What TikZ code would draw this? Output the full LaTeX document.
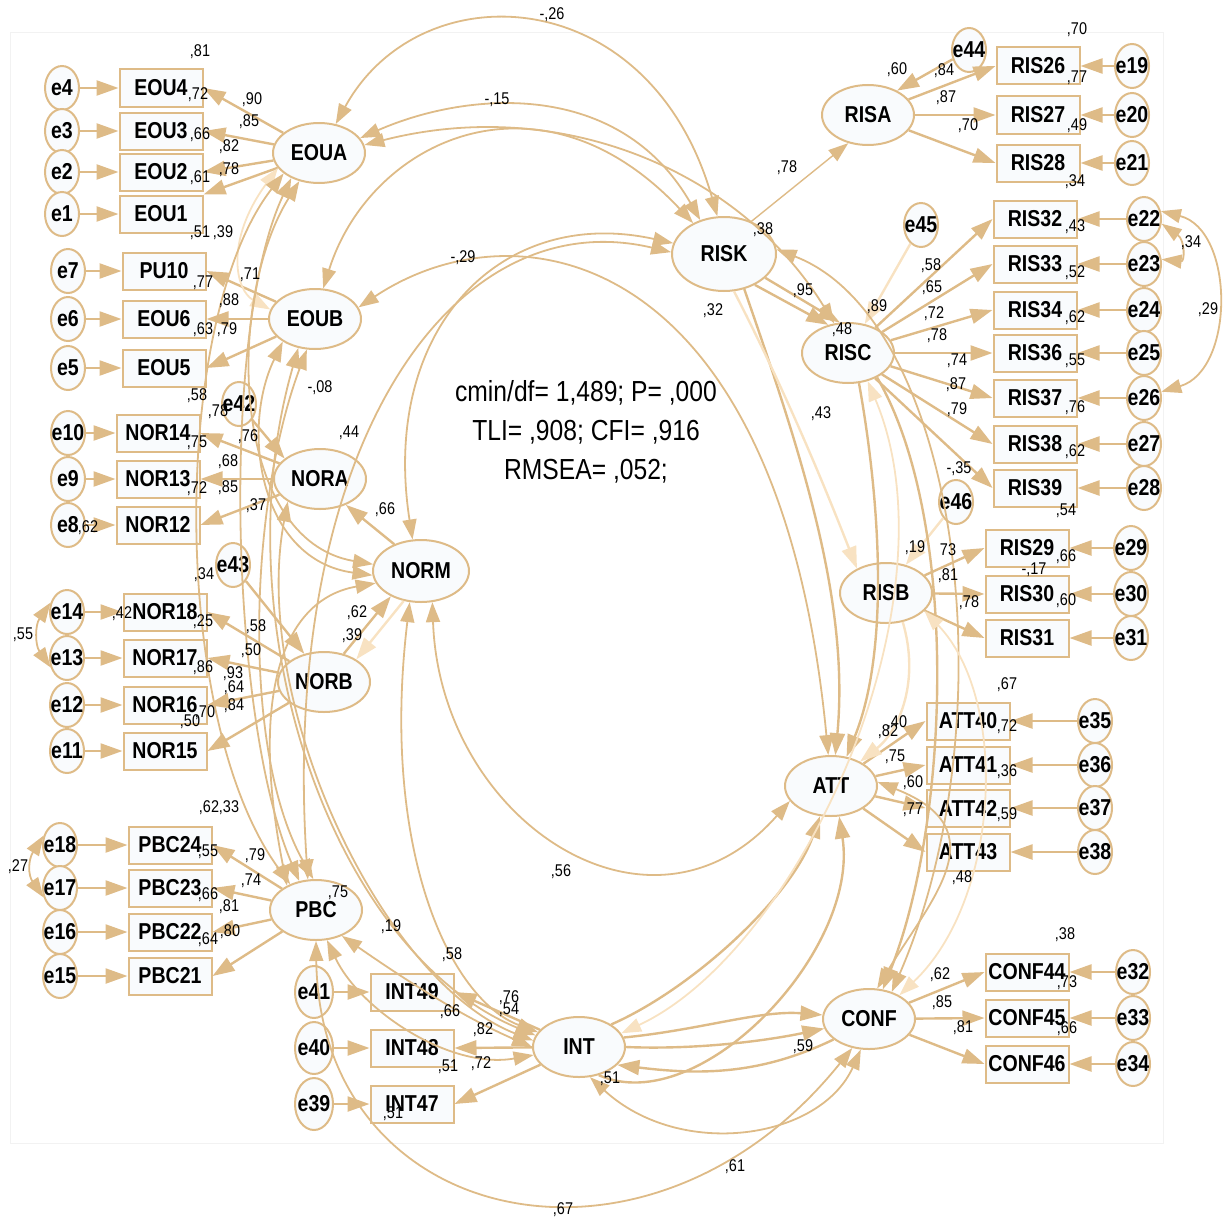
\documentclass[tikz,border=0pt]{standalone}
\usepackage{fontspec}
\setmainfont[FakeStretch=0.85]{Liberation Sans}
\usetikzlibrary{arrows.meta,shapes.geometric}
\definecolor{sand}{RGB}{222,187,135}
\definecolor{palesand}{RGB}{248,226,194}
\definecolor{nodefill}{RGB}{249,251,253}

\begin{document}
\begin{tikzpicture}[x=0.5pt,y=-0.5pt,
    obs/.style={draw=sand, line width=1pt, fill=nodefill, minimum width=41.5pt,
                minimum height=18.5pt, inner sep=0pt, font=\fontsize{11.5}{12}\selectfont\bfseries},
    lat/.style={ellipse, draw=sand, line width=1pt, fill=nodefill, minimum width=46pt,
                minimum height=30pt, inner sep=0pt, font=\fontsize{11.5}{12}\selectfont\bfseries},
    err/.style={ellipse, draw=sand, line width=1pt, fill=nodefill, minimum width=17pt,
                minimum height=22pt, inner xsep=-4pt, inner ysep=0pt, font=\fontsize{11.5}{12}\selectfont\bfseries},
    errtall/.style={err, minimum width=19pt, minimum height=26pt},
    lbl/.style={inner sep=0pt, font=\fontsize{8.5}{9}\selectfont},
    arr/.style={-{Triangle[length=11pt,width=7.5pt]}, line width=1.2pt, sand},
    arrL/.style={-{Triangle[length=11pt,width=7.5pt]}, line width=1.2pt, palesand},
    cov/.style={{Triangle[length=10pt,width=7pt]}-{Triangle[length=10pt,width=7pt]}, line width=0.9pt, sand},
    covL/.style={{Triangle[length=10pt,width=7pt]}-{Triangle[length=10pt,width=7pt]}, line width=0.9pt, palesand},
    thin/.style={-{Triangle[length=10pt,width=7pt]}, line width=0.7pt, sand}
  ]
  \useasboundingbox (0,0) rectangle (1229,1220);
  \draw[black!5] (10,32) rectangle (1163,1143);

  % left indicators
  \node[err] (e4) at (62,88) {e4};
  \node[err] (e3) at (62,131) {e3};
  \node[err] (e2) at (62,172) {e2};
  \node[err] (e1) at (62,214) {e1};
  \node[err] (e7) at (68,271) {e7};
  \node[err] (e6) at (68,319) {e6};
  \node[err] (e5) at (68,368) {e5};
  \node[err] (e10) at (68,433) {e10};
  \node[err] (e9) at (68,479) {e9};
  \node[err] (e8) at (68,525) {e8};
  \node[err] (e14) at (67,612) {e14};
  \node[err] (e13) at (67,658) {e13};
  \node[err] (e12) at (67,705) {e12};
  \node[err] (e11) at (67,751) {e11};
  \node[err] (e18) at (60,845) {e18};
  \node[err] (e17) at (60,888) {e17};
  \node[err] (e16) at (60,932) {e16};
  \node[err] (e15) at (60,976) {e15};

  \node[obs] (EOU4) at (161,88) {EOU4};
  \node[obs] (EOU3) at (161,131) {EOU3};
  \node[obs] (EOU2) at (161,172) {EOU2};
  \node[obs] (EOU1) at (161,214) {EOU1};
  \node[obs] (PU10) at (164,271) {PU10};
  \node[obs] (EOU6) at (164,319) {EOU6};
  \node[obs] (EOU5) at (164,368) {EOU5};
  \node[obs] (NOR14) at (158,433) {NOR14};
  \node[obs] (NOR13) at (158,479) {NOR13};
  \node[obs] (NOR12) at (158,525) {NOR12};
  \node[obs] (NOR18) at (165,612) {NOR18};
  \node[obs] (NOR17) at (165,658) {NOR17};
  \node[obs] (NOR16) at (165,705) {NOR16};
  \node[obs] (NOR15) at (165,751) {NOR15};
  \node[obs] (PBC24) at (170,845) {PBC24};
  \node[obs] (PBC23) at (170,888) {PBC23};
  \node[obs] (PBC22) at (170,932) {PBC22};
  \node[obs] (PBC21) at (170,976) {PBC21};

  % bottom indicators
  \node[errtall] (e41) at (314,992) {e41};
  \node[errtall] (e40) at (314,1048) {e40};
  \node[errtall] (e39) at (314,1104) {e39};
  \node[obs] (INT49) at (412,992) {INT49};
  \node[obs] (INT48) at (412,1048) {INT48};
  \node[obs] (INT47) at (412,1104) {INT47};

  % right indicators
  \node[obs] (RIS26) at (1038,66) {RIS26};
  \node[obs] (RIS27) at (1038,115) {RIS27};
  \node[obs] (RIS28) at (1038,163) {RIS28};
  \node[obs] (RIS32) at (1035,219) {RIS32};
  \node[obs] (RIS33) at (1035,264) {RIS33};
  \node[obs] (RIS34) at (1035,310) {RIS34};
  \node[obs] (RIS36) at (1035,353) {RIS36};
  \node[obs] (RIS37) at (1035,398) {RIS37};
  \node[obs] (RIS38) at (1035,444) {RIS38};
  \node[obs] (RIS39) at (1035,488) {RIS39};
  \node[obs] (RIS29) at (1027,548) {RIS29};
  \node[obs] (RIS30) at (1027,594) {RIS30};
  \node[obs] (RIS31) at (1027,638) {RIS31};
  \node[obs] (ATT40) at (968,721) {ATT40};
  \node[obs] (ATT41) at (968,765) {ATT41};
  \node[obs] (ATT42) at (968,808) {ATT42};
  \node[obs] (ATT43) at (968,852) {ATT43};
  \node[obs] (CONF44) at (1027,972) {CONF44};
  \node[obs] (CONF45) at (1027,1018) {CONF45};
  \node[obs] (CONF46) at (1027,1064) {CONF46};

  \node[err] (e19) at (1132,66) {e19};
  \node[err] (e20) at (1132,115) {e20};
  \node[err] (e21) at (1132,163) {e21};
  \node[err] (e22) at (1144,219) {e22};
  \node[err] (e23) at (1144,264) {e23};
  \node[err] (e24) at (1144,310) {e24};
  \node[err] (e25) at (1144,353) {e25};
  \node[err] (e26) at (1144,398) {e26};
  \node[err] (e27) at (1144,444) {e27};
  \node[err] (e28) at (1144,488) {e28};
  \node[err] (e29) at (1131,548) {e29};
  \node[err] (e30) at (1131,594) {e30};
  \node[err] (e31) at (1131,638) {e31};
  \node[err] (e35) at (1095,721) {e35};
  \node[err] (e36) at (1095,765) {e36};
  \node[err] (e37) at (1095,808) {e37};
  \node[err] (e38) at (1095,852) {e38};
  \node[err] (e32) at (1133,972) {e32};
  \node[err] (e33) at (1133,1018) {e33};
  \node[err] (e34) at (1133,1064) {e34};

  % latent variables
  \node[lat] (EOUA) at (319,153) {EOUA};
  \node[lat] (EOUB) at (315,319) {EOUB};
  \node[lat] (NORA) at (320,479) {NORA};
  \node[lat] (NORB) at (324,682) {NORB};
  \node[lat, minimum width=48pt, minimum height=31pt] (NORM) at (421,571) {NORM};
  \node[lat] (PBC) at (316,910) {PBC};
  \node[lat] (INT) at (579,1047) {INT};
  \node[lat] (CONF) at (869,1019) {CONF};
  \node[lat] (ATT) at (831,786) {ATT};
  \node[lat, minimum width=52pt, minimum height=37pt] (RISK) at (724,254) {RISK};
  \node[lat] (RISA) at (868,115) {RISA};
  \node[lat] (RISC) at (848,353) {RISC};
  \node[lat] (RISB) at (886,593) {RISB};

  \node[err] (e42) at (239,404) {e42};
  \node[err] (e43) at (233,565) {e43};
  \node[err] (e44) at (969,50) {e44};
  \node[err] (e45) at (921,225) {e45};
  \node[err] (e46) at (956,502) {e46};

  \node[font=\fontsize{14.5}{19.5}\selectfont, align=center] (fitidx) at (586,432)
    {cmin/df= 1,489; P= ,000\\TLI= ,908; CFI= ,916\\RMSEA= ,052;};

  % error terms
  \draw[arr] (e4) -- (EOU4);
  \draw[arr] (e3) -- (EOU3);
  \draw[arr] (e2) -- (EOU2);
  \draw[arr] (e1) -- (EOU1);
  \draw[arr] (e7) -- (PU10);
  \draw[arr] (e6) -- (EOU6);
  \draw[arr] (e5) -- (EOU5);
  \draw[arr] (e10) -- (NOR14);
  \draw[arr] (e9) -- (NOR13);
  \draw[arr] (e8) -- (NOR12);
  \draw[arr] (e14) -- (NOR18);
  \draw[arr] (e13) -- (NOR17);
  \draw[arr] (e12) -- (NOR16);
  \draw[arr] (e11) -- (NOR15);
  \draw[arr] (e18) -- (PBC24);
  \draw[arr] (e17) -- (PBC23);
  \draw[arr] (e16) -- (PBC22);
  \draw[arr] (e15) -- (PBC21);
  \draw[arr] (e41) -- (INT49);
  \draw[arr] (e40) -- (INT48);
  \draw[arr] (e39) -- (INT47);
  \draw[arr] (e19) -- (RIS26);
  \draw[arr] (e20) -- (RIS27);
  \draw[arr] (e21) -- (RIS28);
  \draw[arr] (e22) -- (RIS32);
  \draw[arr] (e23) -- (RIS33);
  \draw[arr] (e24) -- (RIS34);
  \draw[arr] (e25) -- (RIS36);
  \draw[arr] (e26) -- (RIS37);
  \draw[arr] (e27) -- (RIS38);
  \draw[arr] (e28) -- (RIS39);
  \draw[arr] (e29) -- (RIS29);
  \draw[arr] (e30) -- (RIS30);
  \draw[arr] (e31) -- (RIS31);
  \draw[arr] (e35) -- (ATT40);
  \draw[arr] (e36) -- (ATT41);
  \draw[arr] (e37) -- (ATT42);
  \draw[arr] (e38) -- (ATT43);
  \draw[arr] (e32) -- (CONF44);
  \draw[arr] (e33) -- (CONF45);
  \draw[arr] (e34) -- (CONF46);

  % loadings
  \draw[arr] (EOUA) -- (EOU4.east);
  \draw[arr] (EOUA) -- (EOU3.east);
  \draw[arr] (EOUA) -- (EOU2.east);
  \draw[arr] (EOUA) -- (EOU1.north east);
  \draw[arr] (EOUB) -- (PU10.east);
  \draw[arr] (EOUB) -- (EOU6.east);
  \draw[arr] (EOUB) -- (EOU5.east);
  \draw[arr] (NORA) -- (NOR14.east);
  \draw[arr] (NORA) -- (NOR13.east);
  \draw[arr] (NORA) -- (NOR12.east);
  \draw[arr] (NORB) -- (NOR18.east);
  \draw[arr] (NORB) -- (NOR17.east);
  \draw[arr] (NORB) -- (NOR16.east);
  \draw[arr] (NORB) -- (NOR15.east);
  \draw[arr] (PBC) -- (PBC24.east);
  \draw[arr] (PBC) -- (PBC23.east);
  \draw[arr] (PBC) -- (PBC22.east);
  \draw[arr] (PBC) -- (PBC21.east);
  \draw[arr] (INT) -- (INT49.east);
  \draw[arr] (INT) -- (INT48.east);
  \draw[arr] (INT) -- (INT47.east);
  \draw[arr] (RISA) -- (RIS26.west);
  \draw[arr] (RISA) -- (RIS27.west);
  \draw[arr] (RISA) -- (RIS28.west);
  \draw[arr] (RISC) -- (RIS32.west);
  \draw[arr] (RISC) -- (RIS33.west);
  \draw[arr] (RISC) -- (RIS34.west);
  \draw[arr] (RISC) -- (RIS36.west);
  \draw[arr] (RISC) -- (RIS37.west);
  \draw[arr] (RISC) -- (RIS38.west);
  \draw[arr] (RISC) -- (RIS39.west);
  \draw[arr] (RISB) -- (RIS29.west);
  \draw[arr] (RISB) -- (RIS30.west);
  \draw[arr] (RISB) -- (RIS31.west);
  \draw[arr] (ATT) -- (ATT40.west);
  \draw[arr] (ATT) -- (ATT41.west);
  \draw[arr] (ATT) -- (ATT42.west);
  \draw[arr] (ATT) -- (ATT43.west);
  \draw[arr] (CONF) -- (CONF44.west);
  \draw[arr] (CONF) -- (CONF45.west);
  \draw[arr] (CONF) -- (CONF46.west);

  % disturbances and second order
  \draw[arr] (e42) -- (NORA.150);
  \draw[arr] (e43) -- (NORB.125);
  \draw[arr] (e44) -- (RISA.40);
  \draw[arrL] (e45) -- (RISC.60);
  \draw[arrL] (e46) -- (RISB.55);
  \draw[arr] (NORM.135) -- (NORA.315);
  \draw[arr] (NORB.55) -- (NORM.220);
  \draw[arrL] (NORM.240) -- (NORB.35);
  \draw[thin] (RISK.50) -- (RISA.235);
  \draw[arr] (RISK.315) -- (RISC.125);
  \draw[arr] (RISK.330) -- (RISC.105);

  % error covariances
  \draw[cov] (e14.150) .. controls (35,625) and (35,645) .. (e13.210);
  \draw[cov] (e18.150) .. controls (28,860) and (28,875) .. (e17.210);
  \draw[cov] (e22.25) .. controls (1235,230) and (1235,370) .. (e26.20);
  \draw[cov] (e22.345) .. controls (1185,240) and (1185,262) .. (e23.15);

  % structural paths and covariances
  \draw[cov] (EOUA.60) .. controls (420,-30) and (650,-20) .. (RISK.100);
  \draw[cov] (EOUA.20) .. controls (470,90) and (620,80) .. (RISK.125);
  \draw[cov] (EOUA.10) .. controls (560,95) and (740,170) .. (RISC.115);
  \draw[cov] (EOUB.75) .. controls (370,140) and (540,60) .. (RISK.135);
  \draw[cov] (EOUB.15) .. controls (520,200) and (780,250) .. (ATT.95);
  \draw[cov] (RISK.168) .. controls (500,205) and (380,330) .. (NORM.105);
  \draw[cov] (RISK.178) .. controls (450,200) and (280,450) .. (PBC.105);
  \draw[covL] (EOUA.200) .. controls (225,240) and (235,290) .. (EOUB.168);
  \draw[cov] (EOUA.210) .. controls (170,320) and (170,720) .. (PBC.135);
  \draw[cov] (EOUA.222) .. controls (220,330) and (230,720) .. (PBC.120);
  \draw[cov] (EOUA.235) .. controls (225,300) and (230,540) .. (NORM.172);
  \draw[cov] (EOUB.215) .. controls (240,430) and (260,560) .. (NORM.185);
  \draw[cov] (EOUB.240) .. controls (220,620) and (330,950) .. (INT.165);
  \draw[cov] (EOUB.255) .. controls (250,500) and (240,750) .. (PBC.95);
  \draw[cov] (NORA.215) .. controls (250,700) and (380,980) .. (INT.172);
  \draw[cov] (PBC.140) .. controls (250,700) and (280,600) .. (NORM.195);
  \draw[cov] (PBC.290) .. controls (360,1010) and (450,1070) .. (INT.190);
  \draw[cov] (PBC.315) .. controls (420,990) and (470,1020) .. (INT.180);
  \draw[cov] (PBC.270) .. controls (320,1230) and (650,1300) .. (CONF.240);
  \draw[cov] (INT.290) .. controls (680,1160) and (820,1140) .. (CONF.255);
  \draw[cov] (NORM.290) .. controls (440,820) and (650,960) .. (ATT.200);
  \draw[cov] (NORM.250) .. controls (380,850) and (450,1000) .. (INT.160);
  \draw[arr] (INT.12) .. controls (700,1030) and (760,1010) .. (CONF.175);
  \draw[arr] (INT.0) .. controls (700,1050) and (770,1040) .. (CONF.192);
  \draw[arr] (CONF.210) .. controls (760,1075) and (700,1075) .. (INT.335);
  \draw[arr] (INT.35) .. controls (690,990) and (790,900) .. (ATT.250);
  \draw[arr] (INT.305) .. controls (700,1120) and (860,950) .. (ATT.285);
  \draw[arr] (RISK.300) .. controls (800,450) and (850,600) .. (ATT.82);
  \draw[arrL] (RISK.285) .. controls (790,400) and (830,500) .. (RISB.140);
  \draw[arr] (RISC.290) .. controls (880,500) and (890,650) .. (ATT.62);
  \draw[arr] (RISC.320) .. controls (960,520) and (950,820) .. (CONF.65);
  \draw[cov] (RISK.5) .. controls (960,320) and (1010,720) .. (CONF.50);
  \draw[cov] (CONF.75) .. controls (930,900) and (1000,830) .. (ATT.5);
  \draw[covL] (INT.18) .. controls (800,950) and (960,600) .. (RISC.305);
  \draw[arrL] (RISB.300) .. controls (920,680) and (900,730) .. (ATT.40);
  \draw[covL] (RISB.335) .. controls (1010,700) and (1000,900) .. (CONF.38);

  % estimates
  \node[lbl] (n01) at (552,15) {-,26};
  \node[lbl] (n02) at (497,100) {-,15};
  \node[lbl] (n03) at (463,258) {-,29};
  \node[lbl] (n04) at (713,311) {,32};
  \node[lbl] (n05) at (320,388) {-,08};
  \node[lbl] (n06) at (349,433) {,44};
  \node[lbl] (n07) at (385,510) {,66};
  \node[lbl] (n08) at (357,613) {,62};
  \node[lbl] (n09) at (352,636) {,39};
  \node[lbl] (n10) at (561,872) {,56};
  \node[lbl] (n11) at (735,1167) {,61};
  \node[lbl] (n12) at (563,1210) {,67};
  \node[lbl] (n13) at (23,635) {,55};
  \node[lbl] (n14) at (18,867) {,27};
  \node[lbl] (n15) at (1191,243) {,34};
  \node[lbl] (n16) at (1208,310) {,29};
  \node[lbl] (n17) at (391,927) {,19};
  \node[lbl] (n18) at (338,893) {,75};
  \node[lbl] (n19) at (452,955) {,58};
  \node[lbl] (n20) at (200,52) {,81};
  \node[lbl] (n21) at (198,95) {,72};
  \node[lbl] (n22) at (252,100) {,90};
  \node[lbl] (n23) at (249,122) {,85};
  \node[lbl] (n24) at (200,135) {,66};
  \node[lbl] (n25) at (229,147) {,82};
  \node[lbl] (n26) at (200,178) {,61};
  \node[lbl] (n27) at (229,170) {,78};
  \node[lbl] (n28) at (200,233) {,51};
  \node[lbl] (n29) at (223,233) {,39};
  \node[lbl] (n30) at (250,275) {,71};
  \node[lbl] (n31) at (203,283) {,77};
  \node[lbl] (n32) at (229,301) {,88};
  \node[lbl] (n33) at (203,330) {,63};
  \node[lbl] (n34) at (227,330) {,79};
  \node[lbl] (n35) at (197,396) {,58};
  \node[lbl] (n36) at (218,412) {,78};
  \node[lbl] (n37) at (248,437) {,76};
  \node[lbl] (n38) at (197,443) {,75};
  \node[lbl] (n39) at (228,462) {,68};
  \node[lbl] (n40) at (197,489) {,72};
  \node[lbl] (n41) at (228,488) {,85};
  \node[lbl] (n42) at (256,506) {,37};
  \node[lbl] (n43) at (88,528) {,62};
  \node[lbl] (n44) at (204,575) {,34};
  \node[lbl] (n45) at (122,614) {,42};
  \node[lbl] (n46) at (203,622) {,25};
  \node[lbl] (n47) at (256,627) {,58};
  \node[lbl] (n48) at (251,651) {,50};
  \node[lbl] (n49) at (203,668) {,86};
  \node[lbl] (n50) at (233,674) {,93};
  \node[lbl] (n51) at (234,688) {,64};
  \node[lbl] (n52) at (205,713) {,70};
  \node[lbl] (n53) at (234,706) {,84};
  \node[lbl] (n54) at (190,722) {,50};
  \node[lbl] (n55) at (209,808) {,62};
  \node[lbl] (n56) at (229,808) {,33};
  \node[lbl] (n57) at (208,852) {,55};
  \node[lbl] (n58) at (255,856) {,79};
  \node[lbl] (n59) at (251,881) {,74};
  \node[lbl] (n60) at (208,895) {,66};
  \node[lbl] (n61) at (229,907) {,81};
  \node[lbl] (n62) at (208,940) {,64};
  \node[lbl] (n63) at (230,932) {,80};
  \node[lbl] (n64) at (509,998) {,76};
  \node[lbl] (n65) at (509,1010) {,54};
  \node[lbl] (n66) at (450,1012) {,66};
  \node[lbl] (n67) at (483,1030) {,82};
  \node[lbl] (n68) at (448,1067) {,51};
  \node[lbl] (n69) at (481,1064) {,72};
  \node[lbl] (n70) at (393,1114) {,51};
  \node[lbl] (n71) at (610,1079) {,51};
  \node[lbl] (n72) at (803,1047) {,59};
  \node[lbl] (n73) at (897,70) {,60};
  \node[lbl] (n74) at (944,71) {,84};
  \node[lbl] (n75) at (946,98) {,87};
  \node[lbl] (n76) at (968,126) {,70};
  \node[lbl] (n77) at (1077,30) {,70};
  \node[lbl] (n78) at (1077,78) {,77};
  \node[lbl] (n79) at (1077,126) {,49};
  \node[lbl] (n80) at (1075,182) {,34};
  \node[lbl] (n81) at (787,168) {,78};
  \node[lbl] (n82) at (763,230) {,38};
  \node[lbl] (n83) at (803,291) {,95};
  \node[lbl] (n84) at (842,330) {,48};
  \node[lbl] (n85) at (877,307) {,89};
  \node[lbl] (n86) at (931,266) {,58};
  \node[lbl] (n87) at (932,288) {,65};
  \node[lbl] (n88) at (934,314) {,72};
  \node[lbl] (n89) at (937,336) {,78};
  \node[lbl] (n90) at (957,361) {,74};
  \node[lbl] (n91) at (956,385) {,87};
  \node[lbl] (n92) at (957,410) {,79};
  \node[lbl] (n93) at (1075,227) {,43};
  \node[lbl] (n94) at (1075,273) {,52};
  \node[lbl] (n95) at (1075,318) {,62};
  \node[lbl] (n96) at (1075,361) {,55};
  \node[lbl] (n97) at (1075,408) {,76};
  \node[lbl] (n98) at (1075,452) {,62};
  \node[lbl] (n99) at (1066,511) {,54};
  \node[lbl] (n100) at (821,414) {,43};
  \node[lbl] (n101) at (959,469) {-,35};
  \node[lbl] (n102) at (915,548) {,19};
  \node[lbl] (n103) at (948,550) {73};
  \node[lbl] (n104) at (948,576) {,81};
  \node[lbl] (n105) at (969,603) {,78};
  \node[lbl] (n106) at (1066,557) {,66};
  \node[lbl] (n107) at (1034,570) {-,17};
  \node[lbl] (n108) at (1066,601) {,60};
  \node[lbl] (n109) at (1007,685) {,67};
  \node[lbl] (n110) at (897,723) {,40};
  \node[lbl] (n111) at (888,732) {,82};
  \node[lbl] (n112) at (895,757) {,75};
  \node[lbl] (n113) at (1007,727) {,72};
  \node[lbl] (n114) at (1007,772) {,36};
  \node[lbl] (n115) at (913,783) {,60};
  \node[lbl] (n116) at (913,810) {,77};
  \node[lbl] (n117) at (1007,815) {,59};
  \node[lbl] (n118) at (962,878) {,48};
  \node[lbl] (n119) at (1065,935) {,38};
  \node[lbl] (n120) at (940,975) {,62};
  \node[lbl] (n121) at (942,1003) {,85};
  \node[lbl] (n122) at (963,1028) {,81};
  \node[lbl] (n123) at (1067,983) {,73};
  \node[lbl] (n124) at (1067,1029) {,66};
\end{tikzpicture}
\end{document}
